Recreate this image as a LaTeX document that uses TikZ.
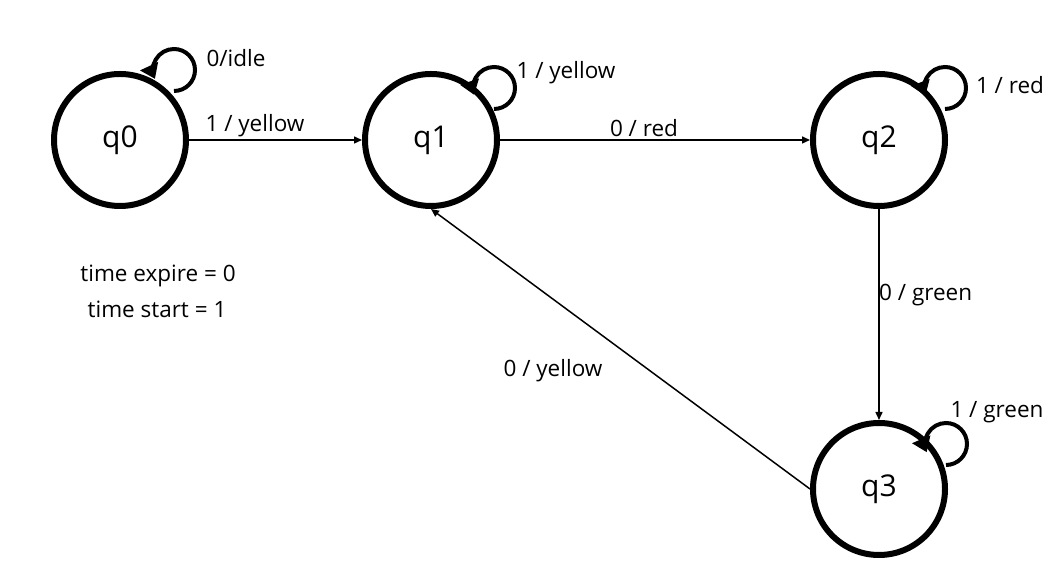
\documentclass[tikz,border=0pt]{standalone}
\usepackage{fontspec}
\setmainfont{Open Sans}
\usetikzlibrary{arrows.meta,calc}
\begin{document}
\begin{tikzpicture}[x=1pt,y=1pt,
  state/.style={circle,draw,line width=6pt,minimum size=132pt,inner sep=0pt,
    font=\fontsize{30}{34}\selectfont},
  lab/.style={inner sep=0pt,font=\fontsize{22.5}{26}\selectfont},
  edge/.style={line width=1.5pt,-{Triangle[length=8pt,width=7pt]}},
  loopline/.style={line width=4pt,-{Triangle[length=14pt,width=19pt]}}]
\useasboundingbox (0,0) rectangle (1061,580);
\node[state] (q0) at (120,440) {q0};
\node[state] (q1) at (431,440) {q1};
\node[state] (q2) at (879,440) {q2};
\node[state] (q3) at (879,91) {q3};
% self loops
\coordinate (L0) at (174,510);
\coordinate (L1) at (494,492);
\coordinate (L2) at (945,492);
\coordinate (L3) at (946,136);
\draw[loopline] ($(L0)+(-90:21)$) arc[start angle=-90,end angle=205,radius=21];
\draw[loopline] ($(L1)+(-90:21)$) arc[start angle=-90,end angle=199,radius=21];
\draw[loopline] ($(L2)+(-90:21)$) arc[start angle=-90,end angle=201,radius=21];
\draw[loopline] ($(L3)+(-90:21)$) arc[start angle=-90,end angle=203,radius=21];
% edges
\draw[edge] (q0) -- (q1);
\draw[edge] (q1) -- (q2);
\draw[edge] (q2) -- (q3);
\draw[edge] (q3.west) -- (q1.south);
% labels
\node[lab] (t0) at (236,522) {0/idle};
\node[lab] (t01) at (255,454) {1 / yellow};
\node[lab] (t11) at (566,507) {1 / yellow};
\node[lab] (t12) at (644,452) {0 / red};
\node[lab] (t22) at (1010,495) {1 / red};
\node[lab,anchor=west] (t23) at (879,285) {0 / green};
\node[lab] (t33) at (997,168) {1 / green};
\node[lab] (t31) at (553,209) {0 / yellow};
\node[lab] (te) at (158,304) {time expire = 0};
\node[lab] (ts) at (157,271) {time start = 1};
\end{tikzpicture}
\end{document}
